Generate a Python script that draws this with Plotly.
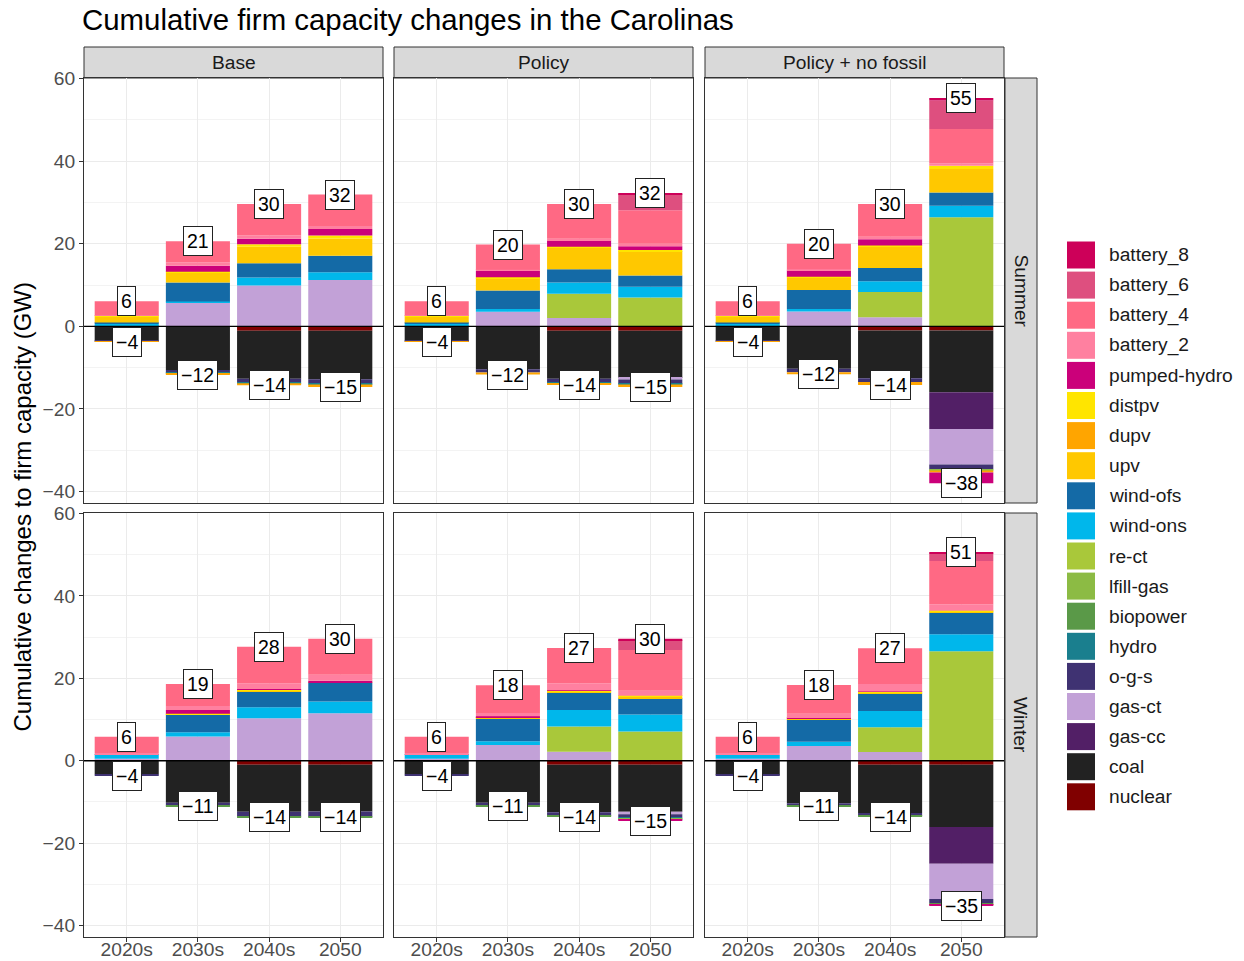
import plotly.graph_objects as go

W, H = 1244, 961

# ---------------- data ----------------
CATS = ["2020s", "2030s", "2040s", "2050"]
SCENARIOS = ["Base", "Policy", "Policy + no fossil"]
SEASONS = ["Summer", "Winter"]

# stacking order: first = nearest to zero
TECHS = ["nuclear", "coal", "gas-cc", "gas-ct", "o-g-s", "hydro", "biopower",
         "lfill-gas", "re-ct", "wind-ons", "wind-ofs", "upv", "dupv", "distpv",
         "pumped-hydro", "battery_2", "battery_4", "battery_6", "battery_8"]

COLORS = {
    "battery_8": "#CD0059", "battery_6": "#DE4F7F", "battery_4": "#FF6984",
    "battery_2": "#FF80A0", "pumped-hydro": "#CB007A", "distpv": "#FFE500",
    "dupv": "#FFA500", "upv": "#FFC800", "wind-ofs": "#146AA6",
    "wind-ons": "#00B7EB", "re-ct": "#A9C83A", "lfill-gas": "#8CBB44",
    "biopower": "#5A9948", "hydro": "#1A7F8E", "o-g-s": "#3F3272",
    "gas-ct": "#C2A1D7", "gas-cc": "#521F66", "coal": "#222222",
    "nuclear": "#800000",
}

base_summer = {
    "nuclear": [0, 0, -1.1, -1.1],
    "coal": [-3.5, -10.6, -11.6, -11.7],
    "gas-ct": [0.2, 5.7, 9.9, 11.2],
    "o-g-s": [-0.2, -0.7, -0.8, -1.0],
    "hydro": [0, -0.2, -0.3, -0.3],
    "wind-ons": [0.4, 0.3, 1.9, 1.9],
    "wind-ofs": [0.3, 4.6, 3.5, 4.0],
    "upv": [1.4, 2.4, 4.0, 4.2],
    "dupv": [-0.1, -0.3, -0.5, -0.6],
    "distpv": [0.2, 0.2, 0.6, 0.7],
    "pumped-hydro": [0, 1.5, 1.3, 1.6],
    "battery_2": [0.2, 0.8, 0.8, 0.7],
    "battery_4": [3.4, 5.1, 7.6, 7.6],
}

policy_summer = {
    "nuclear": [0, 0, -1.1, -1.1],
    "coal": [-3.5, -10.4, -11.6, -11.4],
    "gas-ct": [0.2, 3.5, 2.0, -0.4],
    "o-g-s": [-0.2, -0.8, -0.9, -1.0],
    "hydro": [0, 0, -0.2, -0.2],
    "re-ct": [0, 0, 5.9, 7.0],
    "wind-ons": [0.4, 0.7, 2.7, 2.6],
    "wind-ofs": [0.3, 4.5, 3.2, 2.7],
    "upv": [1.4, 3.0, 5.2, 5.9],
    "dupv": [-0.1, -0.5, -0.4, -0.6],
    "distpv": [0.2, 0.2, 0.3, 0.3],
    "pumped-hydro": [0, 1.5, 1.5, 0.9],
    "battery_2": [0.2, 0.3, 0.4, 0.6],
    "battery_4": [3.4, 6.1, 8.4, 8.1],
    "battery_6": [0, 0, 0, 3.9],
    "battery_8": [0, 0, 0, 0.3],
}

nofossil_summer = {
    "nuclear": [0, 0, -1.0, -1.0],
    "coal": [-3.5, -10.3, -11.6, -15.0],
    "gas-cc": [0, 0, 0, -8.9],
    "gas-ct": [0.2, 3.6, 2.2, -8.6],
    "o-g-s": [-0.2, -0.8, -0.9, -1.2],
    "lfill-gas": [0, 0, 0, -0.2],
    "re-ct": [0, 0, 6.1, 26.4],
    "wind-ons": [0.4, 0.6, 2.6, 2.8],
    "wind-ofs": [0.3, 4.6, 3.2, 3.2],
    "upv": [1.4, 3.0, 5.2, 5.7],
    "dupv": [-0.1, -0.5, -0.7, -0.5],
    "distpv": [0.2, 0.2, 0.3, 0.8],
    "pumped-hydro": [0, 1.5, 1.5, -2.6],
    "battery_2": [0.2, 0.3, 0.6, 0.6],
    "battery_4": [3.4, 6.2, 7.9, 8.3],
    "battery_6": [0, 0, 0, 6.9],
    "battery_8": [0, 0, 0, 0.6],
}

base_winter = {
    "nuclear": [0, 0, -1.0, -1.0],
    "coal": [-3.3, -10.2, -11.4, -11.3],
    "gas-ct": [0.5, 5.9, 10.3, 11.5],
    "o-g-s": [-0.3, -0.7, -1.2, -1.3],
    "biopower": [0, -0.2, -0.1, -0.1],
    "wind-ons": [0.9, 1.0, 2.7, 2.9],
    "wind-ofs": [0.1, 4.3, 3.8, 4.5],
    "upv": [0, 0.1, 0.3, 0],
    "distpv": [0, 0.1, 0.1, 0.1],
    "pumped-hydro": [0, 0.9, 0.2, 0.4],
    "battery_2": [0.4, 1.0, 1.4, 1.5],
    "battery_4": [3.9, 5.3, 8.9, 8.7],
}

policy_winter = {
    "nuclear": [0, 0, -1.0, -1.0],
    "coal": [-3.3, -10.2, -11.5, -11.4],
    "gas-ct": [0.5, 3.8, 2.2, -0.6],
    "o-g-s": [-0.3, -0.7, -0.9, -0.7],
    "hydro": [0, 0, 0, -0.3],
    "biopower": [0, -0.2, -0.2, 0],
    "lfill-gas": [0, 0, 0, -0.2],
    "re-ct": [0, 0, 6.1, 7.1],
    "wind-ons": [0.9, 0.9, 4.0, 4.1],
    "wind-ofs": [0.1, 5.5, 4.2, 4.0],
    "upv": [0, 0.2, 0.3, 0.3],
    "distpv": [0, 0.2, 0.2, 0.3],
    "pumped-hydro": [0, 0.2, 0.1, -0.4],
    "battery_2": [0.4, 0.8, 1.7, 1.2],
    "battery_4": [3.9, 6.7, 8.6, 9.9],
    "battery_6": [0, 0, 0, 2.4],
    "battery_8": [0, 0, 0, 0.3],
}

nofossil_winter = {
    "nuclear": [0, 0, -1.0, -1.0],
    "coal": [-3.4, -10.3, -11.7, -15.1],
    "gas-cc": [0, 0, 0, -8.9],
    "gas-ct": [0.5, 3.6, 2.1, -8.6],
    "o-g-s": [-0.3, -0.6, -0.7, -1.0],
    "biopower": [0, -0.2, -0.2, -0.2],
    "re-ct": [0, 0, 6.0, 26.6],
    "wind-ons": [0.9, 1.0, 4.0, 4.1],
    "wind-ofs": [0, 5.4, 4.3, 5.2],
    "upv": [0, 0.2, 0.2, 0.3],
    "dupv": [0, 0, 0, -0.2],
    "distpv": [0, 0, 0.1, 0.2],
    "pumped-hydro": [0, 0.2, 0.1, -0.2],
    "battery_2": [0.5, 1.0, 1.8, 1.6],
    "battery_4": [3.9, 7.0, 8.7, 10.5],
    "battery_6": [0, 0, 0, 1.8],
    "battery_8": [0, 0, 0, 0.3],
}

PANELS = {
    ("Summer", "Base"): base_summer,
    ("Summer", "Policy"): policy_summer,
    ("Summer", "Policy + no fossil"): nofossil_summer,
    ("Winter", "Base"): base_winter,
    ("Winter", "Policy"): policy_winter,
    ("Winter", "Policy + no fossil"): nofossil_winter,
}

Y_TICKS = [-40, -20, 0, 20, 40, 60]
Y_MINOR = [-30, -10, 10, 30, 50]

# ---------------- layout geometry (pixels) ----------------
COL_X = [(84, 383), (394, 693), (705, 1004)]
ROW_Y = [(78, 503), (513, 937)]
STRIP_TOP = (47, 78)
STRIP_RIGHT = (1005, 1037)
Y_RANGE = [-42.8, 60.15]

FONT = "Liberation Sans, Arial, sans-serif"
SMALL = 19.2


def px(x):
    return x / W


def py(y):
    return 1 - y / H


def fmt(v):
    s = str(int(round(v)))
    return s.replace("-", "\u2212")


fig = go.Figure()
layout = {}
shapes = []
annotations = []

for r, season in enumerate(SEASONS):
    for c, scen in enumerate(SCENARIOS):
        k = r * 3 + c
        s = "" if k == 0 else str(k + 1)
        data = PANELS[(season, scen)]
        for tech in TECHS:
            if tech not in data:
                continue
            fig.add_trace(go.Bar(
                x=CATS, y=data[tech], name=tech,
                marker=dict(color=COLORS[tech], line=dict(width=0)),
                xaxis="x" + s, yaxis="y" + s, showlegend=False,
            ))
        x0, x1 = COL_X[c]
        y0, y1 = ROW_Y[r]
        layout["xaxis" + s] = dict(
            domain=[px(x0), px(x1)], anchor="y" + s,
            type="category", categoryorder="array", categoryarray=CATS,
            range=[-0.6, 3.6], showgrid=True, gridcolor="#EBEBEB", gridwidth=1.1,
            showline=True, mirror=True, linecolor="#333333", linewidth=1,
            ticks="outside" if r == 1 else "", ticklen=4, tickcolor="#333333",
            showticklabels=(r == 1), ticklabelstandoff=-9,
            tickfont=dict(size=SMALL, color="#4D4D4D", family=FONT),
            zeroline=False, fixedrange=True, automargin=False,
        )
        layout["yaxis" + s] = dict(
            domain=[py(y1), py(y0)], anchor="x" + s,
            range=Y_RANGE, tickmode="array", tickvals=Y_TICKS,
            ticktext=[fmt(v) for v in Y_TICKS],
            showgrid=True, gridcolor="#EBEBEB", gridwidth=1.1,
            minor=dict(tickmode="array", tickvals=Y_MINOR, showgrid=True,
                       gridcolor="#F3F3F3", gridwidth=0.6, ticks=""),
            showline=True, mirror=True, linecolor="#333333", linewidth=1,
            ticks="outside" if c == 0 else "", ticklen=4, tickcolor="#333333",
            showticklabels=(c == 0),
            tickfont=dict(size=SMALL, color="#4D4D4D", family=FONT),
            zeroline=False, fixedrange=True, automargin=False,
        )
        # zero reference line
        shapes.append(dict(type="line", xref="x" + s + " domain", yref="y" + s,
                           x0=0, x1=1, y0=0, y1=0,
                           line=dict(color="black", width=1.3), layer="above"))
        # total labels (x given as category index)
        for i, cat in enumerate(CATS):
            pos = sum(v[i] for v in data.values() if v[i] > 0)
            neg = sum(v[i] for v in data.values() if v[i] < 0)
            for tot in (pos, neg):
                annotations.append(dict(
                    x=i, y=tot, xref="x" + s, yref="y" + s, text=fmt(tot),
                    showarrow=False, font=dict(size=19.5, color="black", family=FONT),
                    bgcolor="white", bordercolor="#222222", borderwidth=1,
                    borderpad=3, xanchor="center", yanchor="middle",
                ))

# strips on top
for c, scen in enumerate(SCENARIOS):
    x0, x1 = COL_X[c]
    shapes.append(dict(type="rect", xref="paper", yref="paper",
                       x0=px(x0), x1=px(x1), y0=py(STRIP_TOP[1]), y1=py(STRIP_TOP[0]),
                       fillcolor="#D9D9D9", line=dict(color="#333333", width=1),
                       layer="below"))
    annotations.append(dict(x=px((x0 + x1) / 2), y=py(sum(STRIP_TOP) / 2),
                            xref="paper", yref="paper", text=scen, showarrow=False,
                            font=dict(size=SMALL, color="#1A1A1A", family=FONT),
                            xanchor="center", yanchor="middle"))
# strips on right
for r, season in enumerate(SEASONS):
    y0, y1 = ROW_Y[r]
    shapes.append(dict(type="rect", xref="paper", yref="paper",
                       x0=px(STRIP_RIGHT[0]), x1=px(STRIP_RIGHT[1]), y0=py(y1), y1=py(y0),
                       fillcolor="#D9D9D9", line=dict(color="#333333", width=1),
                       layer="below"))
    annotations.append(dict(x=px(sum(STRIP_RIGHT) / 2), y=py((y0 + y1) / 2),
                            xref="paper", yref="paper", text=season, showarrow=False,
                            textangle=90,
                            font=dict(size=SMALL, color="#1A1A1A", family=FONT),
                            xanchor="center", yanchor="middle"))

# y axis title
annotations.append(dict(x=px(22), y=py((ROW_Y[0][0] + ROW_Y[1][1]) / 2),
                        xref="paper", yref="paper",
                        text="Cumulative changes to firm capacity (GW)",
                        showarrow=False, textangle=-90,
                        font=dict(size=24, color="black", family=FONT),
                        xanchor="center", yanchor="middle"))

# legend (drawn manually, top to bottom)
LEGEND_ORDER = list(reversed(TECHS))
for i, tech in enumerate(LEGEND_ORDER):
    yc = 255 + 30.1 * i
    shapes.append(dict(type="rect", xref="paper", yref="paper",
                       x0=px(1067), x1=px(1095), y0=py(yc + 13.5), y1=py(yc - 13.5),
                       fillcolor=COLORS[tech], line=dict(width=0)))
    annotations.append(dict(x=px(1107), y=py(yc), xref="paper", yref="paper",
                            text=tech, showarrow=False,
                            font=dict(size=SMALL, color="#1A1A1A", family=FONT),
                            xanchor="left", yanchor="middle"))

fig.update_layout(
    width=W, height=H,
    margin=dict(l=0, r=0, t=0, b=0, pad=0, autoexpand=False),
    paper_bgcolor="white", plot_bgcolor="white",
    barmode="relative", bargap=0.1,
    showlegend=False,
    title=dict(text="Cumulative firm capacity changes in the Carolinas",
               x=px(82), xanchor="left", xref="paper",
               y=py(20), yanchor="middle", yref="container", automargin=False,
               font=dict(size=29.4, color="black", family=FONT)),
    font=dict(family=FONT),
    shapes=shapes, annotations=annotations,
    **layout,
)

fig.write_html("out.html", config={"displayModeBar": False},
               post_script="document.body.style.margin='0';")
